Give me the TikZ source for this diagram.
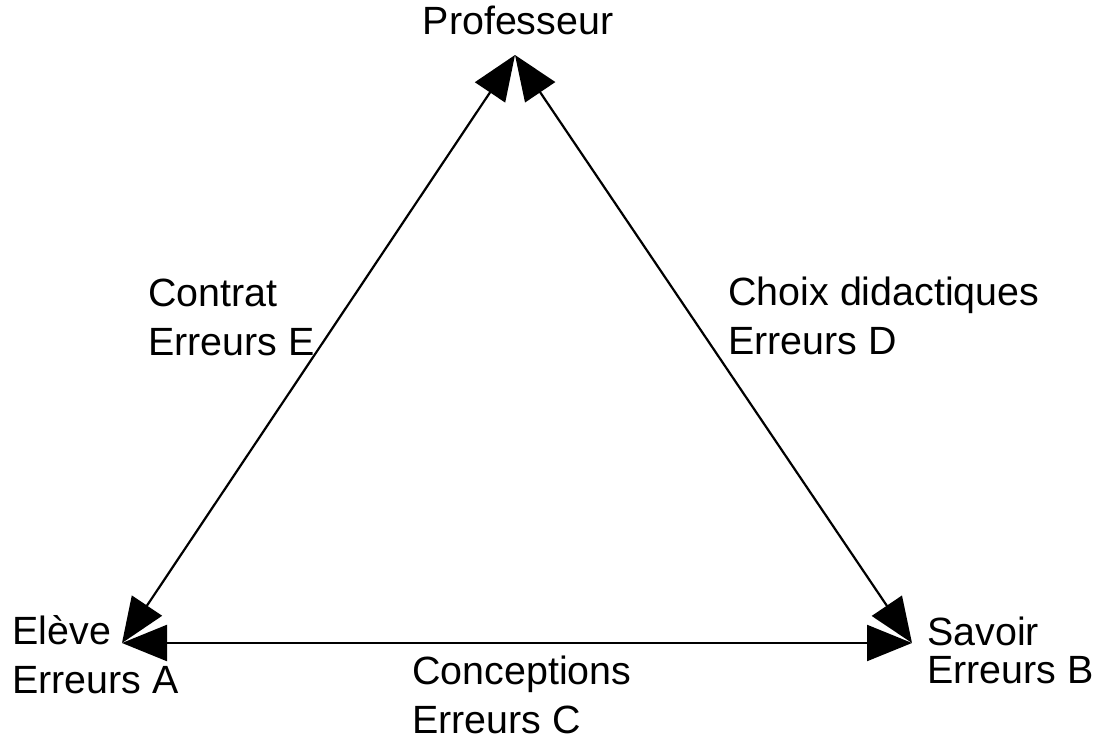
\documentclass[tikz,border=0pt]{standalone}
\usepackage{fontspec}
\setmainfont{Liberation Sans}
\usetikzlibrary{arrows.meta}

\begin{document}
\begin{tikzpicture}[x=0.5pt, y=-0.5pt,
    every node/.style={inner sep=0pt, font=\fontsize{19.7pt}{24.5pt}\selectfont, align=left},
    link/.style={{Triangle[length=22.5pt,width=18pt]}-{Triangle[length=22.5pt,width=18pt]}, line width=1.1pt}]
        \useasboundingbox (0, 0) rectangle (1097, 742);

        \coordinate (P) at (515, 55);
        \coordinate (E) at (122, 643);
        \coordinate (S) at (912, 643);

        \node[anchor=base] (prof) at (518, 35) {Professeur};
        \node[anchor=base west] (contrat) at (148, 356) {Contrat\\Erreurs E};
        \node[anchor=base west] (choix) at (728, 355) {Choix didactiques\\Erreurs D};
        \node[anchor=base west] (eleve) at (12, 693) {Elève\\Erreurs A};
        \node[anchor=base west] (savoir) at (927, 683) {Savoir\\[-5.5pt]Erreurs B};
        \node[anchor=base west] (concept) at (412, 733) {Conceptions\\Erreurs C};

        \draw[link] (E) -- (P);
        \draw[link] (P) -- (S);
        \draw[link] (E) -- (S);
    \end{tikzpicture}
\end{document}
